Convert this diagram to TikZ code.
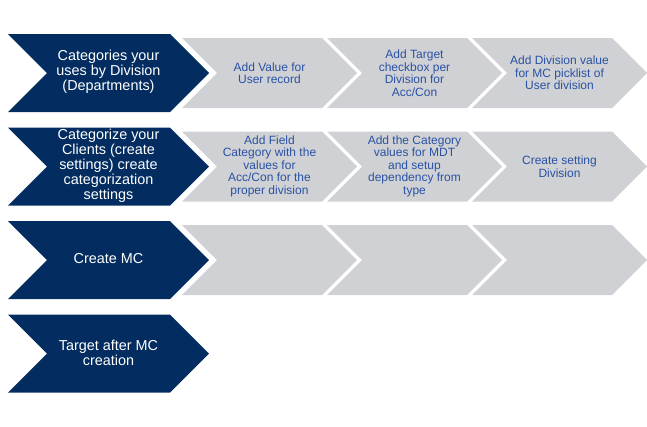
\documentclass[tikz,border=0pt]{standalone}
\usepackage{fontspec}
\setmainfont{Liberation Sans}
\definecolor{navy}{RGB}{3,45,96}
\definecolor{stepgray}{RGB}{208,209,213}
\definecolor{stepblue}{RGB}{41,82,163}
\tikzset{
  darkchev/.style={fill=navy, draw=none},
  graychev/.style={fill=stepgray, draw=none},
  darklabel/.style={text=white, align=center, inner sep=0pt,
    font=\fontsize{14.4}{15}\selectfont},
  graylabel/.style={text=stepblue, align=center, inner sep=0pt,
    font=\fontsize{12}{12.5}\selectfont},
}
% dark chevron whose top edge is at y = #1
\newcommand\DarkChevron[1]{%
  \path[darkchev] (8,#1) -- (170,#1) -- (209,#1+39) -- (170,#1+78)
    -- (8,#1+78) -- (47,#1+39) -- cycle;}
% grey chevron starting at x = #1 in the row whose top edge is at y = #2
\newcommand\GrayChevron[2]{%
  \path[graychev] (#1,#2+4) -- (#1+140,#2+4) -- (#1+175,#2+39)
    -- (#1+140,#2+74) -- (#1,#2+74) -- (#1+35,#2+39) -- cycle;}
\begin{document}
\begin{tikzpicture}[x=1pt,y=-1pt]
\useasboundingbox (0,0) rectangle (647,426);

% row 1
\DarkChevron{34}
\GrayChevron{182}{34}
\GrayChevron{327}{34}
\GrayChevron{472}{34}
\node[darklabel] (r1) at (108.5,72) {Categories your\\uses by Division\\(Departments)};
\node[graylabel] (r1a) at (269.5,73) {Add Value for\\User record};
\node[graylabel] (r1b) at (414.5,73) {Add Target\\checkbox per\\Division for\\Acc/Con};
\node[graylabel] (r1c) at (559.5,73) {Add Division value\\for MC picklist of\\User division};

% row 2
\DarkChevron{127.5}
\GrayChevron{182}{127.5}
\GrayChevron{327}{127.5}
\GrayChevron{472}{127.5}
\node[darklabel] (r2) at (108.5,165.5) {Categorize your\\Clients (create\\settings) create\\categorization\\settings};
\node[graylabel] (r2a) at (269.5,166) {Add Field\\Category with the\\values for\\Acc/Con for the\\proper division};
\node[graylabel] (r2b) at (414.5,166) {Add the Category\\values for MDT\\and setup\\dependency from\\type};
\node[graylabel] (r2c) at (559.5,166.5) {Create setting\\Division};

% row 3
\DarkChevron{221}
\GrayChevron{182}{221}
\GrayChevron{327}{221}
\GrayChevron{472}{221}
\node[darklabel] (r3) at (108.5,259) {Create MC};

% row 4
\DarkChevron{314.5}
\node[darklabel] (r4) at (108.5,352.5) {Target after MC\\creation};
\end{tikzpicture}
\end{document}
